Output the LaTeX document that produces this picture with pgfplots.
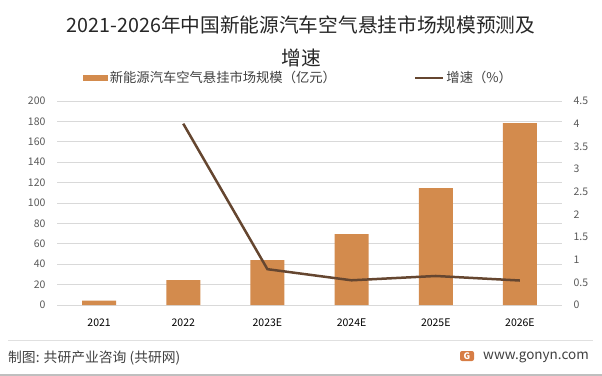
\documentclass[border=0pt]{standalone}
\usepackage{pgfplots}
\pgfplotsset{compat=1.18}
\usepackage{fontspec}
\setmainfont{Noto Sans CJK SC}
\definecolor{barc}{HTML}{D38B4D}
\definecolor{linec}{HTML}{654630}
\definecolor{gridc}{HTML}{D9D9D9}
\definecolor{tickc}{HTML}{595959}
\definecolor{textc}{HTML}{404040}
\begin{document}
\begin{tikzpicture}
\path[use as bounding box] (-57bp,-71bp) rectangle (545bp,305bp);
\begin{axis}[
  at={(0,0)}, anchor=south west, scale only axis,
  width=505bp, height=204bp,
  xmin=-0.5, xmax=5.5, ymin=0, ymax=200, ytick distance=20,
  xtick={0,...,5}, xticklabels={2021,2022,2023E,2024E,2025E,2026E},
  ymajorgrids, grid style={gridc, line width=0.75bp},
  axis line style={draw=none}, major tick length=0,
  ybar, bar width=34bp,
  /pgf/number format/assume math mode=true,
  tick label style={font=\fontsize{10.5bp}{12bp}\selectfont, text=tickc},
  xticklabel style={text=black, yshift=-10bp},
  yticklabel style={xshift=-8bp},
  legend columns=2,
  legend style={at={(0.478,1.113)}, anchor=center, draw=none, fill=none,
    font=\fontsize{13.3bp}{15bp}\selectfont, text=textc,
    /tikz/every even column/.append style={column sep=76bp}},
]
\addplot[fill=barc, draw=none,
  legend image code/.code={\fill[barc] (0bp,-3bp) rectangle (25bp,3bp);}]
  coordinates {(0,4.2) (1,24.5) (2,44.1) (3,69.6) (4,114.7) (5,178.4)};
\addlegendentry{新能源汽车空气悬挂市场规模（亿元）}
\addlegendimage{linec, line width=2.5bp,
  legend image code/.code={\draw[linec, line width=2.5bp] (0bp,0bp) -- (28bp,0bp);}}
\addlegendentry{增速（\%）}
\end{axis}
\begin{axis}[
  at={(0,0)}, anchor=south west, scale only axis,
  width=505bp, height=204bp,
  xmin=-0.5, xmax=5.5, ymin=0, ymax=4.5, ytick distance=0.5,
  axis y line*=right, hide x axis,
  axis line style={draw=none}, major tick length=0,
  /pgf/number format/assume math mode=true,
  tick label style={font=\fontsize{10.5bp}{12bp}\selectfont, text=tickc},
  yticklabel style={xshift=8bp},
]
\addplot[linec, line width=2.5bp] coordinates {(1,4.0) (2,0.79) (3,0.545) (4,0.64) (5,0.54)};
\end{axis}
% title
\node[text=black!85, font=\fontsize{19.7bp}{22bp}\selectfont] at (244bp,280bp) {2021-2026年中国新能源汽车空气悬挂市场规模预测及};
\node[text=black!85, font=\fontsize{19.7bp}{22bp}\selectfont] at (244bp,247bp) {增速};
% footer
\draw[black!12, line width=0.75bp] (-49bp,-35bp) -- (536bp,-35bp);
\draw[black!25, line width=1.5bp] (-57bp,-70bp) -- (545bp,-70bp);
\node[anchor=west, text=textc, font=\fontsize{13.8bp}{15bp}\selectfont, inner sep=0] at (-49bp,-53bp) {制图: 共研产业咨询 (共研网)};
\fill[barc!90!red, rounded corners=2bp] (403bp,-56bp) rectangle (417bp,-46bp);
\node[text=white, font=\bfseries\fontsize{9bp}{10bp}\selectfont, inner sep=0] at (410bp,-51bp) {G};
\node[anchor=west, text=textc, font=\fontsize{13.5bp}{15bp}\selectfont, inner sep=0] at (426bp,-52bp) {www.gonyn.com};
\end{tikzpicture}
\end{document}
